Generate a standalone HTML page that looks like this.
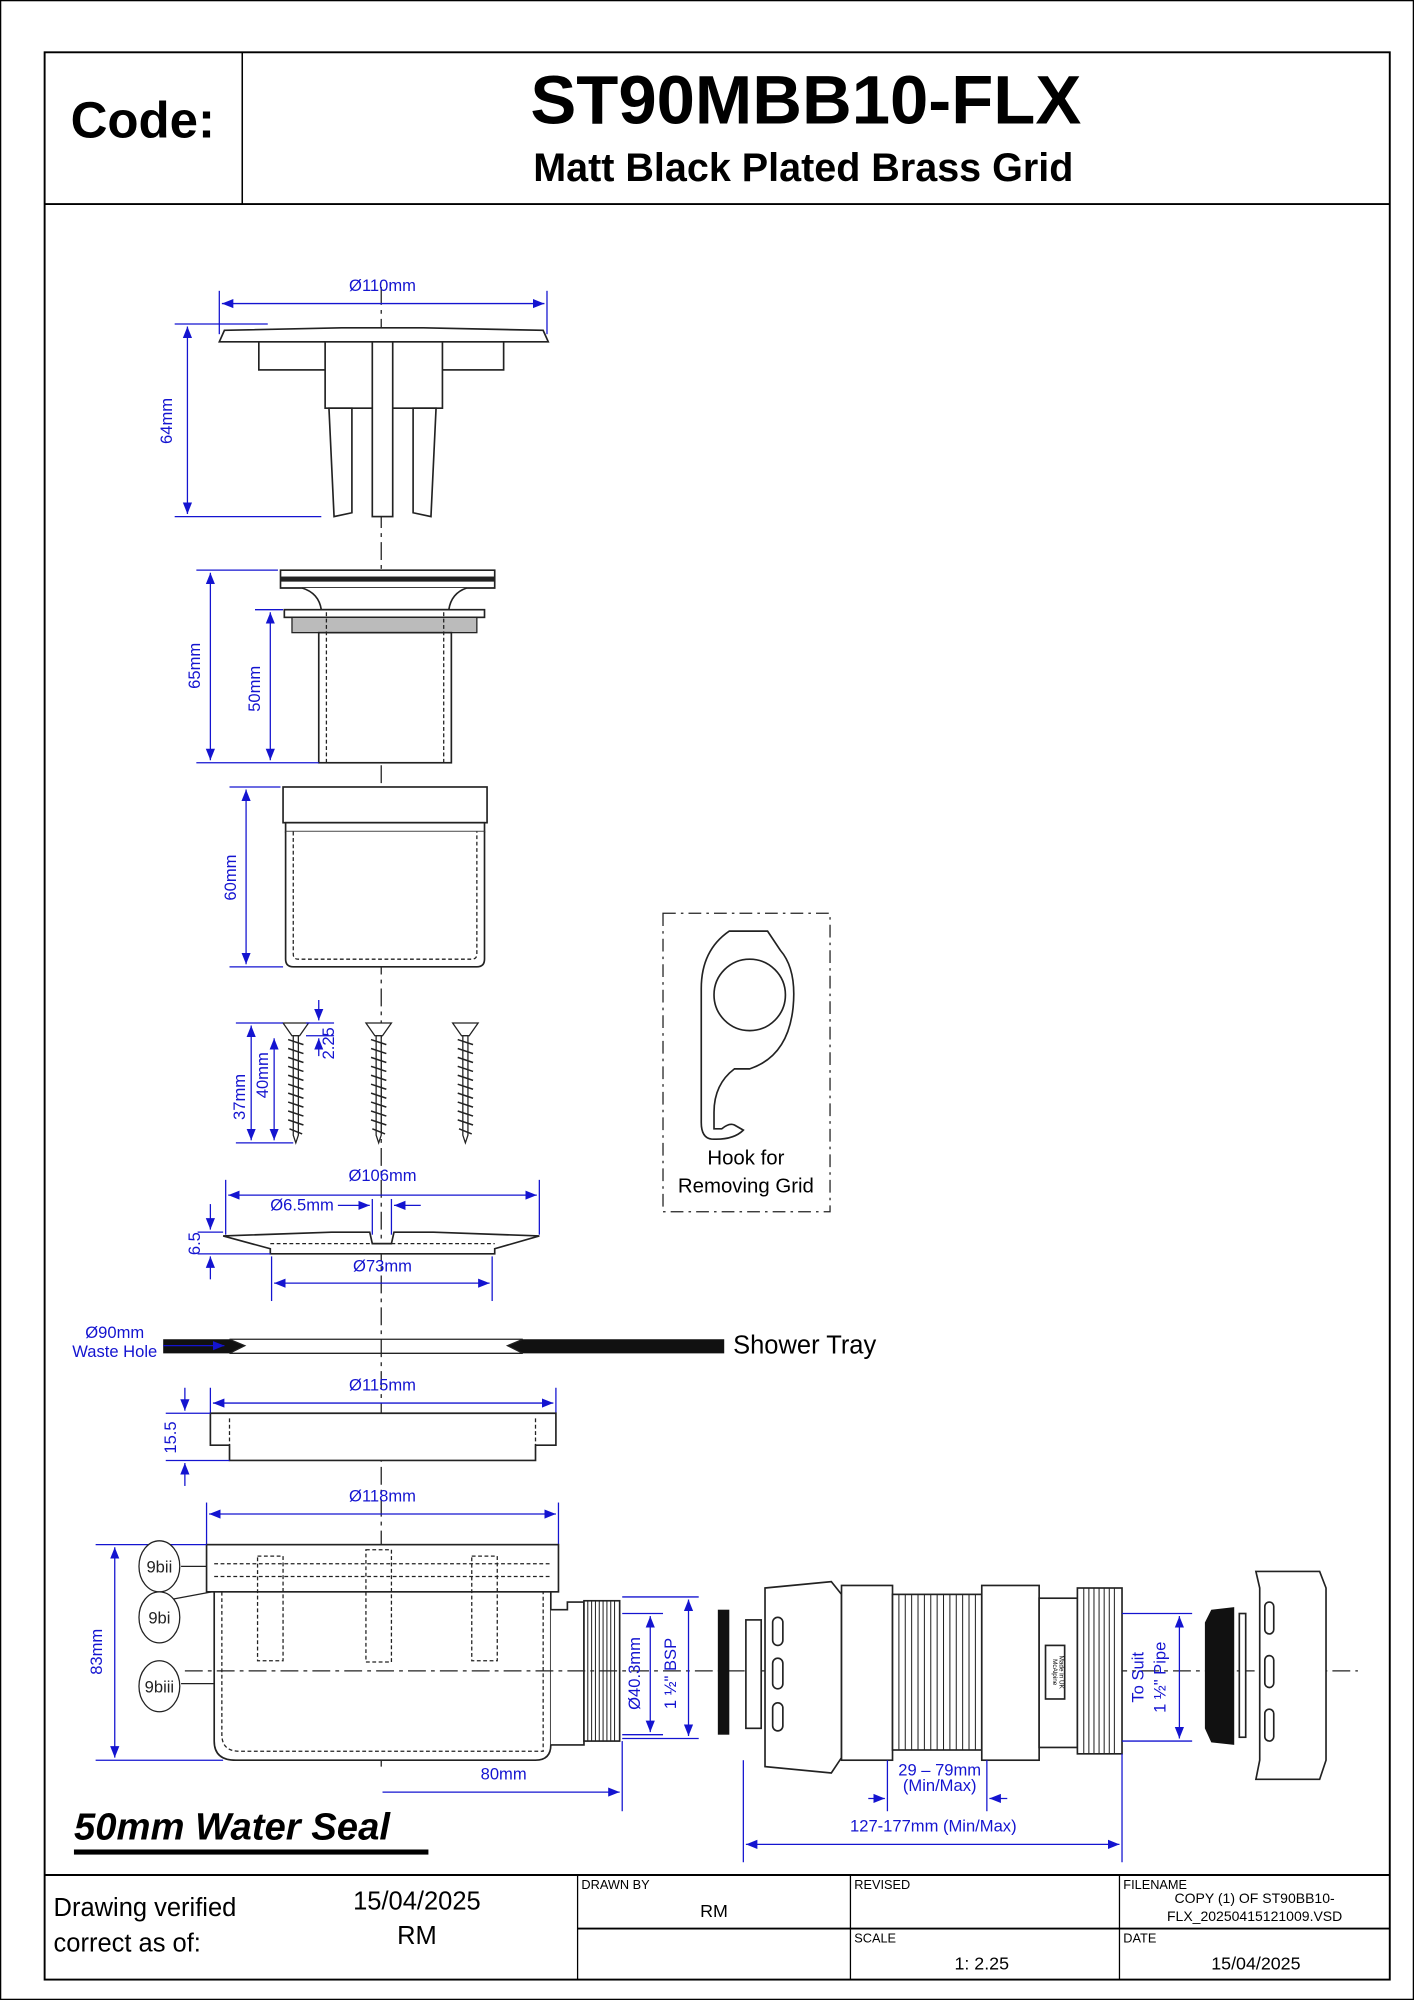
<!DOCTYPE html>
<html><head><meta charset="utf-8"><style>
html,body{margin:0;padding:0;background:#fff}
svg{display:block}
text{font-family:"Liberation Sans",Arial,sans-serif}
.b{fill:#1414d0;font-size:13px}
.d{stroke:#1414d0;stroke-width:1;fill:none}
.o{stroke:#222;stroke-width:1.3;fill:#fff}
.h{stroke:#222;stroke-width:1;fill:none;stroke-dasharray:3 2}
.c{stroke:#222;stroke-width:1;fill:none;stroke-dasharray:14 4 3 4}
</style></head><body>
<svg width="1414" height="2000" viewBox="0 0 1109 1568" preserveAspectRatio="none" xmlns="http://www.w3.org/2000/svg">
<defs>
<marker id="a" viewBox="0 0 10 10" refX="10" refY="5" markerWidth="9" markerHeight="9" orient="auto-start-reverse"><path d="M0,1L10,5L0,9z" fill="#1414d0"/></marker>
</defs>
<rect x="0.5" y="0.5" width="1108" height="1567" fill="none" stroke="#000" stroke-width="1"/>
<rect x="35" y="41" width="1055" height="1511" fill="none" stroke="#000" stroke-width="1.5"/>
<line x1="35" y1="160" x2="1090" y2="160" stroke="#000" stroke-width="1.5"/>
<line x1="190" y1="41" x2="190" y2="160" stroke="#000" stroke-width="1.2"/>
<text x="112" y="108" font-size="40" font-weight="bold" text-anchor="middle">Code:</text>
<text x="632" y="97" font-size="54" font-weight="bold" text-anchor="middle">ST90MBB10-FLX</text>
<text x="630" y="142" font-size="31" font-weight="bold" text-anchor="middle">Matt Black Plated Brass Grid</text>

<line x1="299" y1="225" x2="299" y2="1385" class="c"/>

<line x1="172" y1="228" x2="172" y2="262" class="d"/><line x1="429" y1="228" x2="429" y2="262" class="d"/>
<line x1="174" y1="238" x2="427" y2="238" class="d" marker-start="url(#a)" marker-end="url(#a)"/>
<text x="300" y="228" class="b" text-anchor="middle">Ø110mm</text>
<path d="M172,268 L176,259 L268,257 L332,257 L426,259 L430,268 Z" class="o"/>
<rect x="203" y="268" width="192" height="22" class="o"/>
<rect x="255" y="268" width="92" height="52" class="o"/>
<path d="M258,320 L276,320 L276,402 L262,405 Z" class="o"/>
<path d="M342,320 L324,320 L324,402 L338,405 Z" class="o"/>
<rect x="292" y="268" width="16" height="137" class="o"/>
<line x1="137" y1="254" x2="210" y2="254" class="d"/><line x1="137" y1="405" x2="252" y2="405" class="d"/>
<line x1="147" y1="256" x2="147" y2="403" class="d" marker-start="url(#a)" marker-end="url(#a)"/>
<text class="b" transform="translate(135,330) rotate(-90)" text-anchor="middle">64mm</text>

<path d="M220,447 L388,447 L388,461 L220,461 Z" class="o"/>
<rect x="220" y="452" width="168" height="4" fill="#222"/>
<path d="M237,461 Q250,465 252,478 L352,478 Q354,465 366,461" class="o"/>
<rect x="223" y="478" width="157" height="6" class="o"/>
<rect x="229" y="484" width="145" height="12" fill="#bbb" stroke="#222"/>
<rect x="250" y="496" width="104" height="102" class="o"/>
<line x1="256" y1="480" x2="256" y2="598" class="h"/><line x1="348" y1="480" x2="348" y2="598" class="h"/>
<line x1="154" y1="447" x2="218" y2="447" class="d"/><line x1="154" y1="598" x2="250" y2="598" class="d"/>
<line x1="200" y1="478" x2="222" y2="478" class="d"/>
<line x1="165" y1="449" x2="165" y2="596" class="d" marker-start="url(#a)" marker-end="url(#a)"/>
<line x1="212" y1="480" x2="212" y2="596" class="d" marker-start="url(#a)" marker-end="url(#a)"/>
<text class="b" transform="translate(157,522) rotate(-90)" text-anchor="middle">65mm</text>
<text class="b" transform="translate(204,540) rotate(-90)" text-anchor="middle">50mm</text>

<rect x="222" y="617" width="160" height="28" class="o"/>
<rect x="224" y="645" width="156" height="7" class="o"/>
<path d="M224,652 L224,752 Q224,758 230,758 L374,758 Q380,758 380,752 L380,652" class="o"/>
<path d="M230,652 L230,748 Q230,752 234,752 L370,752 Q374,752 374,748 L374,652" class="h"/>
<line x1="180" y1="617" x2="220" y2="617" class="d"/><line x1="180" y1="758" x2="222" y2="758" class="d"/>
<line x1="193" y1="619" x2="193" y2="756" class="d" marker-start="url(#a)" marker-end="url(#a)"/>
<text class="b" transform="translate(185,688) rotate(-90)" text-anchor="middle">60mm</text>

<g stroke="#222" fill="#fff" stroke-width="1">
<path d="M222,802 L242,802 L235,812 L229,812 Z"/><path d="M230,812 L234,812 L234,890 L232,896 L230,890 Z"/>
<path d="M287,802 L307,802 L300,812 L294,812 Z"/><path d="M295,812 L299,812 L299,890 L297,896 L295,890 Z"/>
<path d="M355,802 L375,802 L368,812 L362,812 Z"/><path d="M363,812 L367,812 L367,890 L365,896 L363,890 Z"/>
</g>
<g stroke="#222" stroke-width="1.2">
<path d="M226,815 l12,4 M226,822 l12,4 M226,829 l12,4 M226,836 l12,4 M226,843 l12,4 M226,850 l12,4 M226,857 l12,4 M226,864 l12,4 M226,871 l12,4 M226,878 l12,4 M227,885 l10,4"/>
<path d="M291,815 l12,4 M291,822 l12,4 M291,829 l12,4 M291,836 l12,4 M291,843 l12,4 M291,850 l12,4 M291,857 l12,4 M291,864 l12,4 M291,871 l12,4 M291,878 l12,4 M292,885 l10,4"/>
<path d="M359,815 l12,4 M359,822 l12,4 M359,829 l12,4 M359,836 l12,4 M359,843 l12,4 M359,850 l12,4 M359,857 l12,4 M359,864 l12,4 M359,871 l12,4 M359,878 l12,4 M360,885 l10,4"/>
</g>
<line x1="185" y1="802" x2="222" y2="802" class="d"/><line x1="185" y1="896" x2="230" y2="896" class="d"/>
<line x1="197" y1="804" x2="197" y2="894" class="d" marker-start="url(#a)" marker-end="url(#a)"/>
<line x1="215" y1="814" x2="215" y2="894" class="d" marker-start="url(#a)" marker-end="url(#a)"/>
<line x1="250" y1="784" x2="250" y2="800" class="d" marker-end="url(#a)"/><line x1="250" y1="828" x2="250" y2="814" class="d" marker-end="url(#a)"/>
<line x1="240" y1="802" x2="262" y2="802" class="d"/><line x1="240" y1="812" x2="262" y2="812" class="d"/>
<text class="b" transform="translate(192,860) rotate(-90)" text-anchor="middle">37mm</text>
<text class="b" transform="translate(210,843) rotate(-90)" text-anchor="middle">40mm</text>
<text class="b" transform="translate(262,818) rotate(-90)" text-anchor="middle">2.25</text>

<line x1="177" y1="925" x2="177" y2="968" class="d"/><line x1="423" y1="925" x2="423" y2="968" class="d"/>
<line x1="179" y1="937" x2="421" y2="937" class="d" marker-start="url(#a)" marker-end="url(#a)"/>
<text x="300" y="926" class="b" text-anchor="middle">Ø106mm</text>
<text x="212" y="949" class="b">Ø6.5mm</text>
<line x1="265" y1="945" x2="290" y2="945" class="d" marker-end="url(#a)"/><line x1="330" y1="945" x2="309" y2="945" class="d" marker-end="url(#a)"/>
<line x1="292" y1="940" x2="292" y2="968" class="d"/><line x1="307" y1="940" x2="307" y2="968" class="d"/>
<path d="M175,969 L260,966 L290,966 L292,975 L307,975 L309,966 L340,966 L423,969 L388,979 L388,983 L212,983 L212,979 Z" class="o"/>
<line x1="212" y1="975" x2="388" y2="975" class="h"/>
<line x1="213" y1="985" x2="213" y2="1020" class="d"/><line x1="386" y1="985" x2="386" y2="1020" class="d"/>
<line x1="215" y1="1006" x2="384" y2="1006" class="d" marker-start="url(#a)" marker-end="url(#a)"/>
<text x="300" y="997" class="b" text-anchor="middle">Ø73mm</text>
<line x1="155" y1="966" x2="175" y2="966" class="d"/><line x1="155" y1="983" x2="212" y2="983" class="d"/>
<line x1="165" y1="944" x2="165" y2="964" class="d" marker-end="url(#a)"/><line x1="165" y1="1003" x2="165" y2="985" class="d" marker-end="url(#a)"/>
<text class="b" transform="translate(157,975) rotate(-90)" text-anchor="middle">6.5</text>

<path d="M128,1050 L180,1050 L192,1055 L180,1061 L128,1061 Z" fill="#111"/>
<path d="M410,1050 L568,1050 L568,1061 L410,1061 L398,1055 Z" fill="#111"/>
<path d="M180,1050 L410,1050 L398,1055 L410,1061 L180,1061 L192,1055 Z" fill="none" stroke="#222"/>
<text x="575" y="1061" font-size="20">Shower Tray</text>
<text x="90" y="1049" class="b" text-anchor="middle">Ø90mm</text>
<text x="90" y="1064" class="b" text-anchor="middle">Waste Hole</text>
<line x1="128" y1="1055" x2="176" y2="1055" class="d" marker-end="url(#a)"/>

<line x1="165" y1="1088" x2="165" y2="1108" class="d"/><line x1="436" y1="1088" x2="436" y2="1108" class="d"/>
<line x1="167" y1="1100" x2="434" y2="1100" class="d" marker-start="url(#a)" marker-end="url(#a)"/>
<text x="300" y="1090" class="b" text-anchor="middle">Ø115mm</text>
<path d="M165,1108 L436,1108 L436,1133 L420,1133 L420,1145 L180,1145 L180,1133 L165,1133 Z" class="o"/>
<line x1="180" y1="1112" x2="180" y2="1133" class="h"/><line x1="420" y1="1112" x2="420" y2="1133" class="h"/>
<line x1="130" y1="1108" x2="165" y2="1108" class="d"/><line x1="130" y1="1145" x2="180" y2="1145" class="d"/>
<line x1="145" y1="1088" x2="145" y2="1106" class="d" marker-end="url(#a)"/><line x1="145" y1="1165" x2="145" y2="1147" class="d" marker-end="url(#a)"/>
<text class="b" transform="translate(138,1127) rotate(-90)" text-anchor="middle">15.5</text>

<line x1="162" y1="1178" x2="162" y2="1211" class="d"/><line x1="438" y1="1178" x2="438" y2="1211" class="d"/>
<line x1="164" y1="1187" x2="436" y2="1187" class="d" marker-start="url(#a)" marker-end="url(#a)"/>
<text x="300" y="1177" class="b" text-anchor="middle">Ø118mm</text>
<path d="M168,1248 L168,1365 Q168,1380 185,1380 L420,1380 Q432,1380 432,1368 L432,1248" class="o"/>
<path d="M174,1248 L174,1360 Q174,1373 188,1373 L426,1373 L426,1248" class="h"/>
<rect x="162" y="1211" width="276" height="37" class="o" stroke-width="2"/>
<line x1="168" y1="1226" x2="432" y2="1226" class="h"/><line x1="168" y1="1236" x2="432" y2="1236" class="h"/>
<rect x="202" y="1220" width="20" height="82" class="h"/><rect x="287" y="1215" width="20" height="88" class="h"/><rect x="370" y="1220" width="20" height="82" class="h"/>
<path d="M432,1262 L445,1262 L445,1256 L458,1256 L458,1368 L432,1368" class="o"/>
<rect x="458" y="1255" width="28" height="110" class="o"/>
<g stroke="#222" stroke-width="0.8"><path d="M461,1255v110M464,1255v110M467,1255v110M470,1255v110M473,1255v110M476,1255v110M479,1255v110M482,1255v110"/></g>
<line x1="145" y1="1310" x2="1065" y2="1310" class="c"/>
<line x1="75" y1="1211" x2="162" y2="1211" class="d"/><line x1="75" y1="1380" x2="175" y2="1380" class="d"/>
<line x1="90" y1="1213" x2="90" y2="1378" class="d" marker-start="url(#a)" marker-end="url(#a)"/>
<text class="b" transform="translate(80,1295) rotate(-90)" text-anchor="middle">83mm</text>
<g stroke="#222" fill="#fff" stroke-width="1"><line x1="142" y1="1228" x2="162" y2="1228"/><line x1="134" y1="1254" x2="166" y2="1248"/><line x1="142" y1="1320" x2="168" y2="1320"/>
<ellipse cx="125" cy="1228" rx="16" ry="20"/><ellipse cx="125" cy="1268" rx="16" ry="20"/><ellipse cx="125" cy="1322" rx="16" ry="20"/></g>
<text x="125" y="1233" font-size="13" text-anchor="middle" fill="#222">9bii</text>
<text x="125" y="1273" font-size="13" text-anchor="middle" fill="#222">9bi</text>
<text x="125" y="1327" font-size="13" text-anchor="middle" fill="#222">9biii</text>
<line x1="488" y1="1365" x2="488" y2="1420" class="d"/>
<line x1="300" y1="1405" x2="486" y2="1405" class="d" marker-end="url(#a)"/>
<text x="395" y="1395" class="b" text-anchor="middle">80mm</text>
<line x1="488" y1="1265" x2="520" y2="1265" class="d"/><line x1="488" y1="1360" x2="520" y2="1360" class="d"/>
<line x1="488" y1="1252" x2="548" y2="1252" class="d"/><line x1="488" y1="1363" x2="548" y2="1363" class="d"/>
<line x1="510" y1="1267" x2="510" y2="1358" class="d" marker-start="url(#a)" marker-end="url(#a)"/>
<line x1="540" y1="1254" x2="540" y2="1361" class="d" marker-start="url(#a)" marker-end="url(#a)"/>
<text class="b" font-size="14" transform="translate(502,1312) rotate(-90)" text-anchor="middle">Ø40.3mm</text>
<text class="b" font-size="14" transform="translate(530,1312) rotate(-90)" text-anchor="middle">1 ½" BSP</text>

<rect x="563" y="1262" width="9" height="98" fill="#111"/>
<rect x="585" y="1270" width="12" height="85" class="o"/>
<path d="M600,1245 L652,1240 L660,1250 L660,1378 L652,1390 L600,1385 Z" class="o"/>
<rect x="606" y="1268" width="8" height="22" rx="4" class="o"/><rect x="606" y="1300" width="8" height="24" rx="4" class="o"/><rect x="606" y="1335" width="8" height="22" rx="4" class="o"/>
<rect x="660" y="1243" width="40" height="137" class="o"/>
<rect x="700" y="1250" width="70" height="122" class="o"/>
<g stroke="#222" stroke-width="0.8"><path d="M705,1250v122M710,1250v122M715,1250v122M720,1250v122M725,1250v122M730,1250v122M735,1250v122M740,1250v122M745,1250v122M750,1250v122M755,1250v122M760,1250v122M765,1250v122"/></g>
<rect x="770" y="1243" width="45" height="137" class="o"/>
<rect x="815" y="1253" width="30" height="117" class="o"/>
<rect x="820" y="1290" width="15" height="42" class="o"/>
<text font-size="5" transform="translate(826,1311) rotate(90)" text-anchor="middle">McAlpine</text>
<text font-size="5" transform="translate(831,1311) rotate(90)" text-anchor="middle">Made in UK</text>
<rect x="845" y="1245" width="35" height="130" class="o"/>
<g stroke="#222" stroke-width="0.8"><path d="M850,1245v130M854,1245v130M858,1245v130M862,1245v130M866,1245v130M870,1245v130M874,1245v130"/></g>
<line x1="880" y1="1265" x2="935" y2="1265" class="d"/><line x1="880" y1="1365" x2="935" y2="1365" class="d"/>
<line x1="925" y1="1267" x2="925" y2="1363" class="d" marker-start="url(#a)" marker-end="url(#a)"/>
<text class="b" font-size="14" transform="translate(897,1315) rotate(-90)" text-anchor="middle">To Suit</text>
<text class="b" font-size="14" transform="translate(914,1315) rotate(-90)" text-anchor="middle">1 ½" Pipe</text>
<path d="M950,1262 L968,1260 L968,1368 L950,1366 L945,1355 L945,1272 Z" fill="#111"/>
<rect x="972" y="1265" width="5" height="97" class="o"/>
<path d="M985,1232 L1035,1232 L1040,1245 L1040,1380 L1035,1395 L985,1395 L988,1380 L988,1245 Z" class="o"/>
<rect x="992" y="1256" width="7" height="25" rx="3.5" class="o"/><rect x="992" y="1298" width="7" height="25" rx="3.5" class="o"/><rect x="992" y="1340" width="7" height="25" rx="3.5" class="o"/>
<line x1="696" y1="1380" x2="696" y2="1420" class="d"/><line x1="774" y1="1380" x2="774" y2="1420" class="d"/>
<line x1="681" y1="1410" x2="694" y2="1410" class="d" marker-end="url(#a)"/><line x1="790" y1="1410" x2="776" y2="1410" class="d" marker-end="url(#a)"/>
<text x="737" y="1392" class="b" font-size="10" text-anchor="middle">29 – 79mm</text>
<text x="737" y="1404" class="b" font-size="10" text-anchor="middle">(Min/Max)</text>
<line x1="583" y1="1380" x2="583" y2="1460" class="d"/><line x1="880" y1="1375" x2="880" y2="1460" class="d"/>
<line x1="585" y1="1446" x2="878" y2="1446" class="d" marker-start="url(#a)" marker-end="url(#a)"/>
<text x="732" y="1436" class="b" font-size="14" text-anchor="middle">127-177mm (Min/Max)</text>

<text x="58" y="1442" font-size="30" font-weight="bold" font-style="italic">50mm Water Seal</text>
<rect x="58" y="1450" width="278" height="4" fill="#000"/>

<rect x="520" y="716" width="131" height="234" fill="none" stroke="#222" stroke-dasharray="10 4 2 4"/>
<path d="M572,730 L602,730 L612,745 Q625,760 622,790 Q618,828 588,838 L576,838 Q560,850 560,872 L560,885 L566,885 Q572,880 576,882 L583,886 Q575,894 558,893 Q550,892 550,880 L550,775 Q550,745 572,730 Z" class="o"/>
<circle cx="588" cy="780" r="28" class="o"/>
<text x="585" y="913" font-size="16" text-anchor="middle">Hook for</text>
<text x="585" y="935" font-size="16" text-anchor="middle">Removing Grid</text>

<line x1="35" y1="1470" x2="1090" y2="1470" stroke="#000" stroke-width="1.5"/>
<line x1="453" y1="1470" x2="453" y2="1552" stroke="#000"/>
<line x1="667" y1="1470" x2="667" y2="1552" stroke="#000"/>
<line x1="878" y1="1470" x2="878" y2="1552" stroke="#000"/>
<line x1="453" y1="1512" x2="1090" y2="1512" stroke="#000" stroke-width="1.5"/>
<text x="42" y="1502" font-size="20">Drawing verified</text>
<text x="42" y="1530" font-size="20">correct as of:</text>
<text x="327" y="1497" font-size="20" text-anchor="middle">15/04/2025</text>
<text x="327" y="1524" font-size="20" text-anchor="middle">RM</text>
<text x="456" y="1481" font-size="10">DRAWN BY</text>
<text x="560" y="1503" font-size="14" text-anchor="middle">RM</text>
<text x="670" y="1481" font-size="10">REVISED</text>
<text x="670" y="1523" font-size="10">SCALE</text>
<text x="770" y="1544" font-size="14" text-anchor="middle">1: 2.25</text>
<text x="881" y="1481" font-size="10">FILENAME</text>
<text x="984" y="1492" font-size="11" text-anchor="middle">COPY (1) OF ST90BB10-</text>
<text x="984" y="1506" font-size="11" text-anchor="middle">FLX_20250415121009.VSD</text>
<text x="881" y="1523" font-size="10">DATE</text>
<text x="985" y="1544" font-size="14" text-anchor="middle">15/04/2025</text>
</svg>
</body></html>
